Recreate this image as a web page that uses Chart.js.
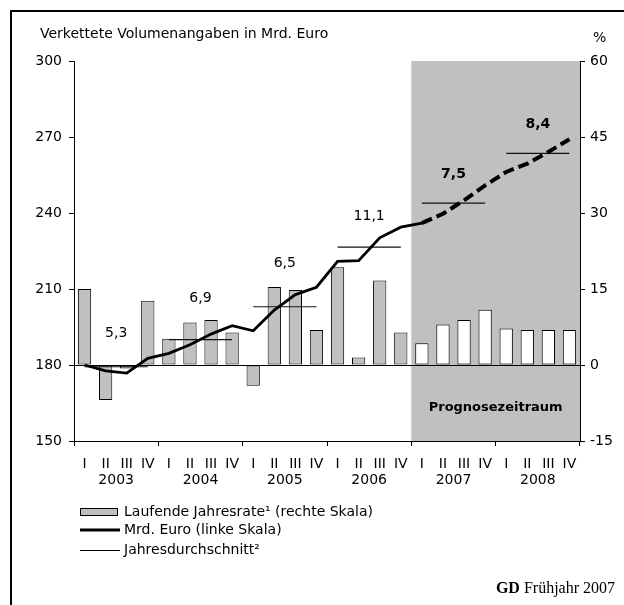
<!DOCTYPE html>
<html>
<head>
<meta charset="utf-8">
<script src="https://cdn.jsdelivr.net/npm/chart.js@4.4.0/dist/chart.umd.min.js"></script>
<style>
  html, body { margin: 0; padding: 0; background: #fff; }
  #wrap { position: relative; width: 624px; height: 605px; overflow: hidden; }
  canvas { position: absolute; left: 0; top: 0; }
</style>
</head>
<body>
<div id="wrap"><canvas id="gdChart" width="624" height="605"></canvas></div>
<script>
// quarters 2003 - 2008
const quarters = [
  'I','II','III','IV', 'I','II','III','IV', 'I','II','III','IV',
  'I','II','III','IV', 'I','II','III','IV', 'I','II','III','IV'
];
const years = ['2003','2004','2005','2006','2007','2008'];

// Laufende Jahresrate, % (right scale)
const annualRate = [
  15.0, -6.9, -0.7, 12.7,
  5.2, 8.4, 8.9, 6.4,
  -4.1, 15.4, 14.8, 6.9,
  19.3, 1.5, 16.7, 6.4,
  4.3, 8.0, 8.9, 10.9,
  7.2, 6.9, 6.9, 6.9
];

// Mrd. Euro, chained volumes (left scale)
const gdpLevel = [
  180.0, 177.7, 176.8, 182.6,
  184.6, 188.0, 192.2, 195.5,
  193.5, 201.7, 207.8, 210.7,
  220.9, 221.2, 230.2, 234.4,
  236.0, 239.7, 245.0, 250.9,
  256.2, 259.5, 264.1, 269.1
];

// Jahresdurchschnitt (left scale) and its growth label
const yearAverage = [179.3, 190.0, 203.0, 226.5, 243.9, 263.5];
const yearGrowth = ['5,3', '6,9', '6,5', '11,1', '7,5', '8,4'];

const leftTicks = [150, 180, 210, 240, 270, 300];
const rightTicks = [-15, 0, 15, 30, 45, 60];

const forecastStart = 16; // first forecast quarter (2007 I)

// how far (px) each growth label sits above its average line
const labelRise = [33, 41, 43, 31, 29, 29];

const baseFont = { family: 'DejaVu Sans', size: 14 };
const grey = '#c0c0c0';

const extras = {
  id: 'extras',
  beforeDraw(chart) {
    // grey forecast band
    const { ctx, chartArea: a, scales } = chart;
    const x = scales.x;
    const slot = x.getPixelForValue(1) - x.getPixelForValue(0);
    const left = x.getPixelForValue(forecastStart) - slot / 2;
    ctx.save();
    ctx.fillStyle = grey;
    ctx.fillRect(left, a.top, a.right - left, a.bottom - a.top);
    ctx.restore();
  },
  afterDatasetsDraw(chart) {
    const { ctx, chartArea: a, scales } = chart;
    ctx.save();
    ctx.fillStyle = '#000';
    ctx.textAlign = 'center';
    ctx.textBaseline = 'middle';
    yearGrowth.forEach((txt, i) => {
      ctx.font = (i >= 4 ? 'bold ' : '') + '14px "DejaVu Sans"';
      const px = scales.xYear.getPixelForValue(i);
      const py = scales.yLeft.getPixelForValue(yearAverage[i]) - labelRise[i];
      ctx.fillText(txt, px, py);
    });
    // forecast caption
    const x = scales.x;
    const slot = x.getPixelForValue(1) - x.getPixelForValue(0);
    const left = x.getPixelForValue(forecastStart) - slot / 2;
    ctx.font = 'bold 13px "DejaVu Sans"';
    ctx.fillText('Prognosezeitraum', (left + a.right) / 2, a.bottom - 33);
    ctx.restore();
  },
  afterDraw(chart) {
    const { ctx } = chart;
    ctx.save();
    // frame
    ctx.strokeStyle = '#000';
    ctx.lineWidth = 2;
    ctx.beginPath();
    ctx.moveTo(11, 605);
    ctx.lineTo(11, 11);
    ctx.lineTo(624, 11);
    ctx.stroke();

    // axis captions
    ctx.fillStyle = '#000';
    ctx.font = '14px "DejaVu Sans"';
    ctx.textBaseline = 'middle';
    ctx.textAlign = 'left';
    ctx.fillText('Verkettete Volumenangaben in Mrd. Euro', 40, 34);
    ctx.fillText('%', 593, 38);

    // legend
    ctx.fillStyle = grey;
    ctx.fillRect(80.5, 508.5, 37, 7);
    ctx.lineWidth = 1;
    ctx.strokeRect(80.5, 508.5, 37, 7);
    ctx.lineWidth = 3;
    ctx.beginPath(); ctx.moveTo(80, 530); ctx.lineTo(120, 530); ctx.stroke();
    ctx.lineWidth = 1;
    ctx.beginPath(); ctx.moveTo(80, 550.5); ctx.lineTo(120, 550.5); ctx.stroke();
    ctx.fillStyle = '#000';
    ctx.fillText('Laufende Jahresrate\u00b9 (rechte Skala)', 124, 512);
    ctx.fillText('Mrd. Euro (linke Skala)', 124, 530);
    ctx.fillText('Jahresdurchschnitt\u00b2', 124, 550);

    // source line
    ctx.textBaseline = 'alphabetic';
    ctx.font = '16px "Liberation Serif"';
    const rest = ' Fr\u00fchjahr 2007';
    const wRest = ctx.measureText(rest).width;
    ctx.font = 'bold 16px "Liberation Serif"';
    const wGD = ctx.measureText('GD').width;
    const start = 615 - wRest - wGD;
    ctx.fillText('GD', start, 593);
    ctx.font = '16px "Liberation Serif"';
    ctx.fillText(rest, start + wGD, 593);
    ctx.restore();
  }
};

new Chart(document.getElementById('gdChart'), {
  data: {
    labels: quarters,
    datasets: [
      {
        type: 'line',
        label: 'Mrd. Euro (linke Skala)',
        data: gdpLevel,
        yAxisID: 'yLeft',
        borderColor: '#000',
        borderWidth: 2.8,
        pointRadius: 0,
        tension: 0,
        order: 1,
        segment: {
          borderDash: c => c.p0DataIndex >= forecastStart ? [11, 5] : undefined,
          borderWidth: c => c.p0DataIndex >= forecastStart ? 4 : 2.8
        }
      },
      {
        type: 'line',
        label: 'Jahresdurchschnitt',
        data: quarters.map((q, i) => yearAverage[Math.floor(i / 4)]),
        yAxisID: 'yLeft',
        borderColor: '#111',
        borderWidth: 1.2,
        pointRadius: 0,
        order: 2,
        segment: {
          borderColor: c => (c.p0DataIndex % 4 === 3) ? 'rgba(0,0,0,0)' : '#111'
        }
      },
      {
        type: 'bar',
        label: 'Laufende Jahresrate (rechte Skala)',
        data: annualRate,
        yAxisID: 'yRight',
        backgroundColor: annualRate.map((v, i) => i >= forecastStart ? '#fff' : grey),
        borderColor: '#000',
        borderWidth: 1,
        borderSkipped: false,
        barPercentage: 0.63,
        categoryPercentage: 1,
        order: 3
      }
    ]
  },
  options: {
    responsive: false,
    animation: false,
    devicePixelRatio: 1,
    layout: { padding: { top: 61, left: 0, right: 0, bottom: 104 } },
    plugins: { legend: { display: false }, tooltip: { enabled: false } },
    scales: {
      x: {
        type: 'category',
        position: 'bottom',
        offset: true,
        weight: 0,
        grid: {
          offset: true,
          drawOnChartArea: false,
          drawTicks: true,
          tickLength: 5,
          color: c => (c.index === undefined || c.index % 4 === 0) ? '#000' : 'rgba(0,0,0,0)'
        },
        border: { color: '#000', width: 1 },
        ticks: { color: '#000', font: baseFont, padding: 10, maxRotation: 0, autoSkip: false },
        afterFit: s => { s.height = 30; }
      },
      xYear: {
        type: 'category',
        labels: years,
        position: 'bottom',
        offset: true,
        weight: 1,
        grid: { display: false, drawTicks: false },
        border: { display: false },
        ticks: { color: '#000', font: baseFont, padding: 1, maxRotation: 0 },
        afterFit: s => { s.height = 30; }
      },
      yLeft: {
        position: 'left',
        min: 150,
        max: 300,
        afterBuildTicks: s => { s.ticks = leftTicks.map(v => ({ value: v })); },
        ticks: { color: '#000', font: baseFont, padding: 7 },
        grid: { drawOnChartArea: false, tickLength: 5, color: '#000' },
        border: { color: '#000', width: 1 },
        afterFit: s => { s.width = 74; }
      },
      yRight: {
        position: 'right',
        min: -15,
        max: 60,
        afterBuildTicks: s => { s.ticks = rightTicks.map(v => ({ value: v })); },
        ticks: { color: '#000', font: baseFont, padding: 5 },
        grid: {
          drawOnChartArea: true,
          tickLength: 5,
          tickColor: '#000',
          color: c => (c.tick && c.tick.value === 0) ? '#000' : 'rgba(0,0,0,0)'
        },
        border: { color: '#000', width: 1 },
        afterFit: s => { s.width = 44; }
      }
    }
  },
  plugins: [extras]
});
</script>
</body>
</html>
